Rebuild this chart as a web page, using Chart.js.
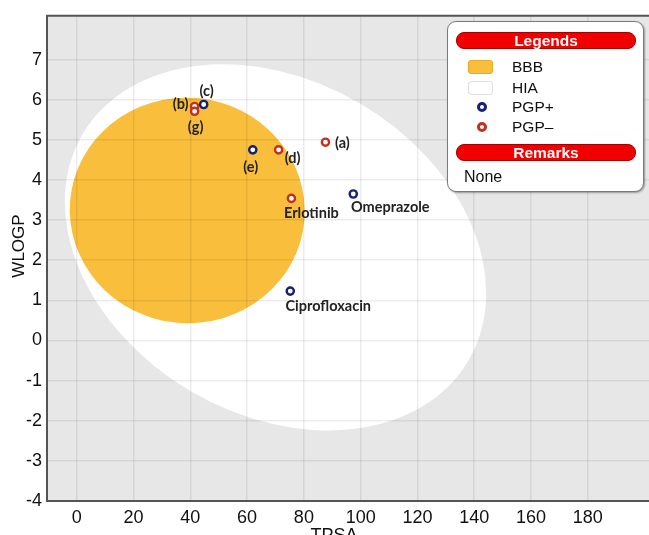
<!DOCTYPE html>
<html>
<head>
<meta charset="utf-8">
<script src="https://cdn.jsdelivr.net/npm/chart.js@4.4.1/dist/chart.umd.min.js"></script>
<style>
  html, body { margin: 0; padding: 0; background: #fff; overflow: hidden; }
  #contenedor { position: relative; width: 649px; height: 535px; overflow: hidden; }
  #grafico { display: block; }
  #leyenda {
    position: absolute; left: 447px; top: 21px; width: 197px; height: 171px;
    box-sizing: border-box; background: #fff; border: 1.5px solid #7a7a7a; border-radius: 9px;
    box-shadow: 1px 1px 2px rgba(0,0,0,.35);
    font-family: "Liberation Sans", Arial, sans-serif; color: #111;
  }
  .pildora {
    position: absolute; left: 8px; width: 180px; height: 17px; box-sizing: border-box;
    background: #f20000; border: 1px solid #a80000; border-radius: 8px;
    color: #fff; font-weight: bold; font-size: 15.5px; line-height: 15px; text-align: center;
  }
  .fila { position: absolute; left: 0; height: 20px; line-height: 20px; font-size: 15.5px; }
  .fila span.txt { position: absolute; left: 64px; top: 0; white-space: nowrap; }
  .caja { position: absolute; left: 20px; top: 3px; width: 25px; height: 14px; box-sizing: border-box; border-radius: 3px; }
  .anillo { position: absolute; left: 29px; top: 5px; width: 10px; height: 10px; box-sizing: border-box; border-radius: 50%; border: 3px solid; background: #fff; }
  #nota { position: absolute; left: 16px; top: 145px; font-size: 16px; line-height: 20px; }
</style>
</head>
<body>
<div id="contenedor">
  <canvas id="grafico" width="656" height="535"></canvas>
  <div id="leyenda"></div>
</div>
<script>
// datos
const compuestos = ["(a)", "(b)", "(c)", "(d)", "(e)", "(g)", "Erlotinib", "Omeprazole", "Ciprofloxacin"];
const tpsa = [87.6, 41.5, 44.7, 71.1, 62.0, 41.5, 75.6, 97.4, 75.2];
const wlogp = [4.94, 5.83, 5.88, 4.75, 4.75, 5.71, 3.54, 3.65, 1.23];
const pgp = ["-", "-", "+", "-", "+", "-", "-", "+", "+"];

// elipses del BOILED-Egg (centro y semiejes en unidades de los ejes)
const elipses = ["HIA", "BBB"];
const centroTPSA = [70.0, 38.9];
const centroWLOGP = [2.32, 3.24];
const semiejeTPSA = [78.8, 41.4];
const semiejeWLOGP = [4.16, 2.81];
const giroGrados = [30.3, 5];

const ticksX = [0, 20, 40, 60, 80, 100, 120, 140, 160, 180];
const ticksY = [-4, -3, -2, -1, 0, 1, 2, 3, 4, 5, 6, 7];

const leyendaNombres = ["BBB", "HIA", "PGP+", "PGP\u2013"];
const leyendaNota = "None";

// estilos
const colorElipse = { HIA: "#ffffff", BBB: "#f9bf3c" };
const colorPGP = { "+": "#13217a", "-": "#c2301e" };
const desplazamiento = {
  "(a)": [17, 1], "(b)": [-14, -2], "(c)": [3, -13], "(d)": [14, 8], "(e)": [-2, 17],
  "(g)": [1, 16], "Erlotinib": [20, 15], "Omeprazole": [37, 13], "Ciprofloxacin": [38, 15]
};

function puntos(signo) {
  const res = [];
  compuestos.forEach((nombre, i) => {
    if (pgp[i] === signo) res.push({ x: tpsa[i], y: wlogp[i], nombre: nombre });
  });
  return res;
}

// Fondo gris y elipses //
const fondoElipses = {
  id: "fondoElipses",
  beforeDraw(chart) {
    const { ctx, chartArea: a, scales: { x, y } } = chart;
    ctx.save();
    ctx.fillStyle = "#e7e7e7";
    ctx.fillRect(a.left, a.top, a.right - a.left, a.bottom - a.top);
    ctx.beginPath();
    ctx.rect(a.left, a.top, a.right - a.left, a.bottom - a.top);
    ctx.clip();
    elipses.forEach((nombre, i) => {
      const cx = x.getPixelForValue(centroTPSA[i]);
      const cy = y.getPixelForValue(centroWLOGP[i]);
      const rx = Math.abs(x.getPixelForValue(centroTPSA[i] + semiejeTPSA[i]) - cx);
      const ry = Math.abs(y.getPixelForValue(centroWLOGP[i] + semiejeWLOGP[i]) - cy);
      ctx.beginPath();
      ctx.ellipse(cx, cy, rx, ry, giroGrados[i] * Math.PI / 180, 0, 2 * Math.PI);
      ctx.fillStyle = colorElipse[nombre];
      ctx.fill();
    });
    ctx.restore();
  }
};

// Etiquetas de los compuestos //
const etiquetas = {
  id: "etiquetas",
  afterDatasetsDraw(chart) {
    const ctx = chart.ctx;
    ctx.save();
    ctx.font = "bold 14.5px Lato, 'Open Sans', sans-serif";
    ctx.fillStyle = "#222";
    ctx.textAlign = "center";
    ctx.textBaseline = "middle";
    chart.data.datasets.forEach((ds, d) => {
      const meta = chart.getDatasetMeta(d);
      ds.data.forEach((p, i) => {
        const el = meta.data[i];
        const off = desplazamiento[p.nombre] || [0, 14];
        ctx.fillText(p.nombre, el.x + off[0], el.y + off[1]);
      });
    });
    ctx.restore();
  }
};

// Marco superior y titulos de ejes //
const marco = {
  id: "marco",
  afterDraw(chart) {
    const { ctx, chartArea: a } = chart;
    ctx.save();
    ctx.strokeStyle = "#555";
    ctx.lineWidth = 2;
    ctx.beginPath();
    ctx.moveTo(a.left - 1, a.top);
    ctx.lineTo(a.right, a.top);
    ctx.stroke();

    ctx.fillStyle = "#111";
    ctx.font = "18px 'Liberation Sans', Arial, sans-serif";
    ctx.textAlign = "center";
    ctx.textBaseline = "alphabetic";
    ctx.fillText("TPSA", 334, 541);

    ctx.translate(24, 246);
    ctx.rotate(-Math.PI / 2);
    ctx.font = "17px 'Liberation Sans', Arial, sans-serif";
    ctx.fillText("WLOGP", 0, 0);
    ctx.restore();
  }
};

const fuenteTicks = { family: "'Liberation Sans', Arial, sans-serif", size: 18 };
const colorGrid = "rgba(0,0,0,0.075)";

new Chart(document.getElementById("grafico"), {
  type: "scatter",
  data: {
    datasets: [
      {
        label: "PGP+",
        data: puntos("+"),
        pointRadius: 3.6,
        borderWidth: 2.4,
        borderColor: colorPGP["+"],
        backgroundColor: "#ffffff"
      },
      {
        label: "PGP\u2013",
        data: puntos("-"),
        pointRadius: 3.6,
        borderWidth: 2.4,
        borderColor: colorPGP["-"],
        backgroundColor: "#ffffff"
      }
    ]
  },
  options: {
    responsive: false,
    animation: false,
    layout: { padding: { top: 13, right: 0, bottom: 0, left: 0 } },
    plugins: { legend: { display: false }, tooltip: { enabled: false } },
    scales: {
      x: {
        type: "linear",
        min: -10.5,
        max: 201.8,
        afterBuildTicks: (s) => { s.ticks = ticksX.map(v => ({ value: v })); },
        afterFit: (s) => { s.height = 34; },
        grid: { color: colorGrid, lineWidth: 1.5, drawTicks: false },
        border: { color: "#555", width: 2 },
        ticks: { font: fuenteTicks, color: "#111", padding: 6, maxRotation: 0 }
      },
      y: {
        type: "linear",
        min: -4,
        max: 8.09,
        afterBuildTicks: (s) => { s.ticks = ticksY.map(v => ({ value: v })); },
        afterFit: (s) => { s.width = 47; },
        grid: { color: colorGrid, lineWidth: 1.5, drawTicks: false },
        border: { color: "#555", width: 2 },
        ticks: { font: fuenteTicks, color: "#111", padding: 5 }
      }
    }
  },
  plugins: [fondoElipses, etiquetas, marco]
});

// Leyenda en HTML //
const leyenda = document.getElementById("leyenda");
const filasY = [35, 56, 75, 95];
let html = '<div class="pildora" style="top:10px">Legends</div>';
leyendaNombres.forEach((nombre, i) => {
  let marca = "";
  if (i === 0) marca = '<span class="caja" style="background:#f9bf3c;border:1px solid #e9a92a"></span>';
  if (i === 1) marca = '<span class="caja" style="background:#fff;border:1px solid #ddd"></span>';
  if (i === 2) marca = '<span class="anillo" style="border-color:' + colorPGP["+"] + '"></span>';
  if (i === 3) marca = '<span class="anillo" style="border-color:' + colorPGP["-"] + '"></span>';
  html += '<div class="fila" style="top:' + filasY[i] + 'px">' + marca + '<span class="txt">' + nombre + '</span></div>';
});
html += '<div class="pildora" style="top:122px">Remarks</div>';
html += '<div id="nota">' + leyendaNota + '</div>';
leyenda.innerHTML = html;
</script>
</body>
</html>
